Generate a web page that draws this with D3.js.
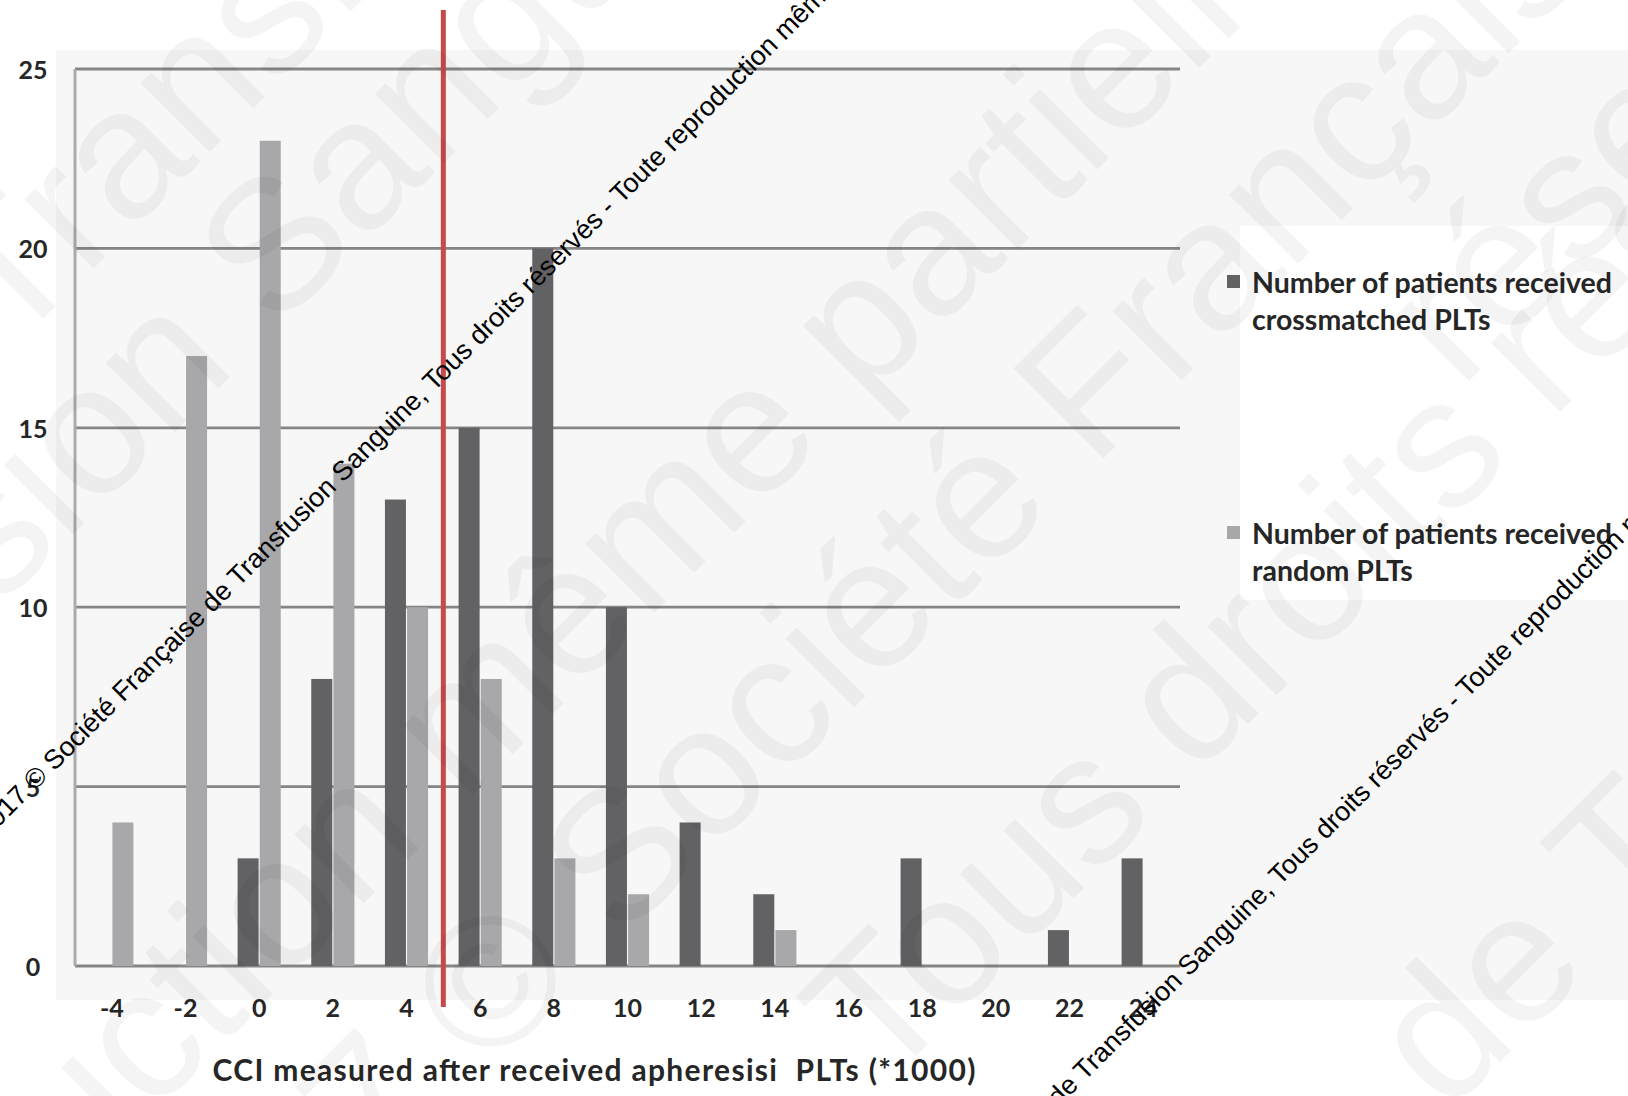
<!DOCTYPE html>
<html>
<head>
<meta charset="utf-8">
<script src="https://cdn.jsdelivr.net/npm/d3@7"></script>
<style>
  body { margin: 0; background: #fff; }
  svg { display: block; }
  .lbl { font-family: Lato, "Open Sans", sans-serif; font-weight: 700; fill: #262626; }
  .wm { font-family: "Liberation Sans", Arial, sans-serif; }
</style>
</head>
<body>
<svg id="chart" width="1628" height="1096"></svg>
<script>
// ---- data ----
const categories = ["-4", "-2", "0", "2", "4", "6", "8", "10", "12", "14", "16", "18", "20", "22", "24"];
const crossmatched = [0, 0, 3, 8, 13, 15, 20, 10, 4, 2, 0, 3, 0, 1, 3];
const randomPLT = [4, 17, 23, 14, 10, 8, 3, 2, 0, 1, 0, 0, 0, 0, 0];
const seriesKeys = ["crossmatched", "random"];
const legendLines = [
  ["Number of patients received", "crossmatched PLTs"],
  ["Number of patients received", "random PLTs"]
];
const yTicks = [0, 5, 10, 15, 20, 25];
const cciThreshold = 5; // CCI cut-off, in thousands
const xTitle = "CCI measured after received apheresisi  PLTs (*1000)";

// copyright notice text
const notice = "2017 © Société Française de Transfusion Sanguine, Tous droits réservés - Toute reproduction même partielle est interdite";

const colors = { crossmatched: "#626265", random: "#a8a8ab" };

const svg = d3.select("#chart");
const W = 1628, H = 1096;
const plot = { left: 75, right: 1180, top: 69, bottom: 966 };

// ---- backgrounds ----
const bg = svg.append("g");
bg.append("rect").attr("x", 0).attr("y", 0).attr("width", W).attr("height", H).attr("fill", "#ffffff");
bg.append("rect").attr("x", 56).attr("y", 50).attr("width", W - 56).attr("height", 950).attr("fill", "#f7f7f8");
bg.append("rect").attr("x", 1240).attr("y", 226).attr("width", W - 1240).attr("height", 374).attr("fill", "#ffffff");

// ---- scales ----
const x = d3.scaleBand().domain(categories).range([plot.left, plot.right]).paddingInner(0).paddingOuter(0);
const xSub = d3.scaleBand().domain(seriesKeys).range([0, x.bandwidth()]).paddingInner(0.05).paddingOuter(0.69);
const y = d3.scaleLinear().domain([0, 25]).range([plot.bottom, plot.top]);

// numeric position along the category axis (categories step by 2)
const xNum = d3.scaleLinear()
  .domain([+categories[0], +categories[categories.length - 1]])
  .range([x(categories[0]) + x.bandwidth() / 2, x(categories[categories.length - 1]) + x.bandwidth() / 2]);

// ---- gridlines ----
svg.append("g")
  .selectAll("line")
  .data(yTicks)
  .join("line")
  .attr("x1", plot.left).attr("x2", plot.right)
  .attr("y1", d => y(d)).attr("y2", d => y(d))
  .attr("stroke", "#858585").attr("stroke-width", 2.8);

// y axis line
svg.append("line")
  .attr("x1", plot.left).attr("x2", plot.left)
  .attr("y1", y(25)).attr("y2", y(0))
  .attr("stroke", "#ababab").attr("stroke-width", 3);

// ---- bars ----
const rows = categories.map((c, i) => ({ cat: c, crossmatched: crossmatched[i], random: randomPLT[i] }));
svg.append("g")
  .selectAll("g")
  .data(rows)
  .join("g")
  .attr("transform", d => `translate(${x(d.cat)},0)`)
  .selectAll("rect")
  .data(d => seriesKeys.map(k => ({ key: k, value: d[k] })))
  .join("rect")
  .attr("x", d => xSub(d.key))
  .attr("width", xSub.bandwidth())
  .attr("y", d => y(d.value))
  .attr("height", d => y(0) - y(d.value))
  .attr("fill", d => colors[d.key]);

// ---- axis labels ----
svg.append("g")
  .selectAll("text")
  .data(yTicks)
  .join("text")
  .attr("class", "lbl")
  .attr("x", 33).attr("y", d => y(d))
  .attr("text-anchor", "middle").attr("dominant-baseline", "central")
  .attr("font-size", 25)
  .text(d => d);

svg.append("g")
  .selectAll("text")
  .data(categories)
  .join("text")
  .attr("class", "lbl")
  .attr("x", d => x(d) + x.bandwidth() / 2).attr("y", 1007)
  .attr("text-anchor", "middle").attr("dominant-baseline", "central")
  .attr("font-size", 25)
  .text(d => d);

svg.append("text")
  .attr("class", "lbl")
  .attr("x", 594).attr("y", 1069)
  .attr("text-anchor", "middle").attr("dominant-baseline", "central")
  .attr("font-size", 30)
  .style("white-space", "pre")
  .attr("textLength", 763)
  .text(xTitle);

// ---- legend ----
const legend = svg.append("g");
seriesKeys.forEach((k, i) => {
  const top = [282, 533][i];
  legend.append("rect")
    .attr("x", 1227).attr("y", top - 7).attr("width", 13).attr("height", 13)
    .attr("fill", colors[k]);
  legendLines[i].forEach((line, j) => {
    legend.append("text")
      .attr("class", "lbl")
      .attr("x", 1252).attr("y", top + j * 37)
      .attr("dominant-baseline", "central")
      .attr("font-size", 28.5)
      .text(line);
  });
});

// ---- CCI threshold ----
svg.append("line")
  .attr("x1", xNum(cciThreshold)).attr("x2", xNum(cciThreshold))
  .attr("y1", 10).attr("y2", 1007)
  .attr("stroke", "#c8494a").attr("stroke-width", 5);

// ---- faint background watermark (large letters) ----
const bigRows = [
  { text: "de Transfusion Sanguine", x: -170, s: 362 },
  { text: "Transfusion Sanguine, Tous", x: -440, s: 607 },
  { text: "reproduction même partielle", x: -300, s: 1267 },
  { text: "2017 © Société Française de", x: 160, s: 1562 },
  { text: "réservés", x: 1460, s: 1850 },
  { text: "Tous droits réservés", x: 882, s: 1972 },
  { text: "de Transfusion", x: 1447, s: 2562 }
];
svg.append("g")
  .selectAll("text")
  .data(bigRows)
  .join("text")
  .attr("class", "wm")
  .attr("font-size", 185)
  .attr("fill", "#000").attr("fill-opacity", 0.045)
  .attr("transform", d => `translate(${d.x},${d.s - d.x}) rotate(-45)`)
  .text(d => d.text);

// ---- copyright notice lines ----
const noticeRows = [{ x: -13, y: 839 }, { x: 833, y: 1333 }];
svg.append("g")
  .selectAll("text")
  .data(noticeRows)
  .join("text")
  .attr("class", "wm")
  .attr("font-size", 27)
  .attr("fill", "#000")
  .attr("transform", d => `translate(${d.x},${d.y}) rotate(-45)`)
  .text(notice);
</script>
</body>
</html>
